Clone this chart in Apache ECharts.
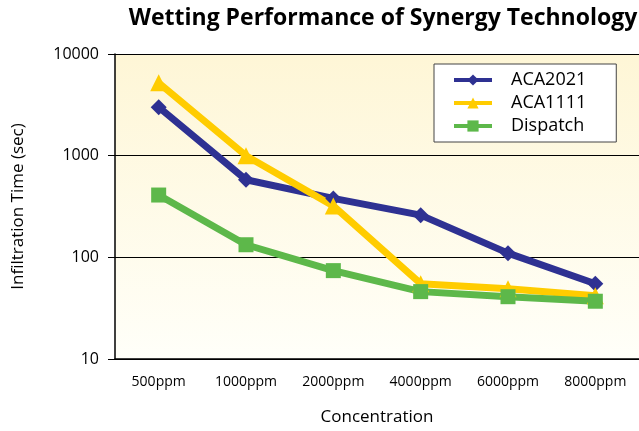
<!DOCTYPE html>
<html><head><meta charset="utf-8">
<script src="https://cdn.jsdelivr.net/npm/echarts@6/dist/echarts.min.js"></script>
<style>html,body{margin:0;padding:0;background:#fff}#c{width:639px;height:431px}</style>
</head><body><div id="c"></div>
<script>
const categories = ['500ppm','1000ppm','2000ppm','4000ppm','6000ppm','8000ppm'];
const aca2021 = [3000, 580, 380, 260, 110, 55];
const aca1111 = [5200, 1000, 320, 55, 49, 42];
const dispatch = [410, 133, 74, 46, 41, 37];
const yTicks = [10, 100, 1000, 10000];

const chart = echarts.init(document.getElementById('c'), null, {renderer:'canvas'});
const font = 'Open Sans';
function mk(name, data, color, symbol, size){
  return {name, type:'line', data, symbol, symbolSize:size,
    lineStyle:{color, width:7}, itemStyle:{color}, color,
    emphasis:{disabled:true}, animation:false};
}
chart.setOption({
  animation:false,
  title:{text:'Wetting Performance of Synergy Technology', left:378, top:2, textAlign:'center',
    textStyle:{fontFamily:font, fontWeight:'bold', fontSize:23, color:'#000'}},
  grid:{left:115, right:0, top:54, bottom:70, show:true, borderWidth:0,
    backgroundColor:{type:'linear', x:0, y:0, x2:0, y2:1, colorStops:[
      {offset:0, color:'#FEF6D6'}, {offset:1, color:'#FFFFF9'}]}},
  legend:{left:434, top:64, orient:'vertical', itemGap:5, itemWidth:38, itemHeight:14,
    padding:[7,30,7,18], borderColor:'#444', borderWidth:1, backgroundColor:'#fff',
    textStyle:{fontFamily:font, fontSize:18, color:'#000', padding:[0,0,0,14]},
    lineStyle:{width:4},
    data:['ACA2021','ACA1111','Dispatch']},
  xAxis:{type:'category', data:categories, boundaryGap:true,
    name:'Concentration', nameLocation:'middle', nameGap:50,
    nameTextStyle:{fontFamily:font, fontSize:17, color:'#000'},
    axisLine:{lineStyle:{color:'#000', width:1.5}},
    axisTick:{length:7, lineStyle:{color:'#000'}},
    axisLabel:{fontFamily:font, fontSize:14, color:'#000', margin:16}},
  yAxis:{type:'log', logBase:10, min:10, max:10000,
    name:'Infiltration Time (sec)', nameLocation:'middle', nameGap:88,
    nameTextStyle:{fontFamily:font, fontSize:17, color:'#000'},
    axisLine:{show:true, lineStyle:{color:'#000', width:1.5}},
    axisTick:{show:true, inside:false, length:7, lineStyle:{color:'#000'}},
    axisLabel:{fontFamily:font, fontSize:16, color:'#000', margin:16,
      formatter:v=>yTicks.includes(Math.round(v))?String(Math.round(v)):''},
    splitLine:{show:true, lineStyle:{color:'#000', width:1}}},
  series:[
    mk('ACA2021', aca2021, '#2E3192', 'diamond', 16),
    mk('ACA1111', aca1111, '#FFCC00', 'triangle', 17),
    mk('Dispatch', dispatch, '#5DB84A', 'rect', 15)
  ]
});
</script></body></html>
